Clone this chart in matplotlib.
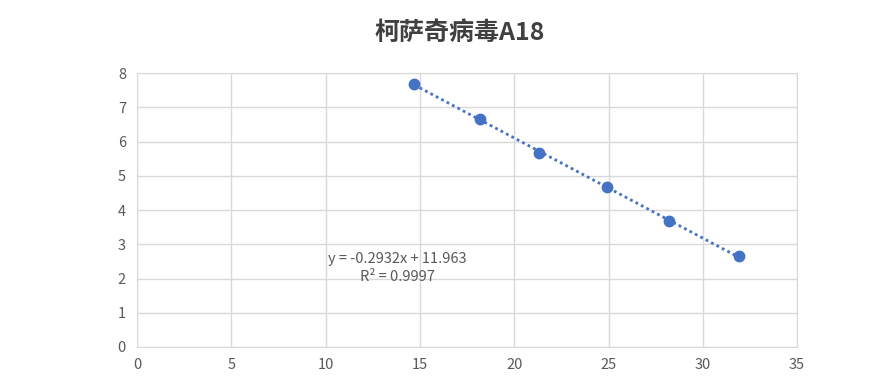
import numpy as np
import matplotlib
matplotlib.use("Agg")
import matplotlib.pyplot as plt

plt.rcParams['font.family'] = ['Noto Sans CJK SC', 'DejaVu Sans']

# data
ct_values = [14.7, 18.2, 21.3, 24.9, 28.2, 31.9]
log_conc = [7.67, 6.67, 5.67, 4.67, 3.67, 2.67]
title = '柯萨奇病毒A18'
eq_text = 'y = -0.2932x + 11.963'
r2_text = 'R² = 0.9997'
x_ticks = [0, 5, 10, 15, 20, 25, 30, 35]
y_ticks = [0, 1, 2, 3, 4, 5, 6, 7, 8]

blue = '#4472C4'
grey = '#595959'
grid_c = '#d9d9d9'

fig = plt.figure(figsize=(8.74, 3.87), dpi=100)
ax = fig.add_axes([0.1568, 0.1034, 0.912 - 0.1568, 0.811 - 0.1034])

# trendline
k, b = np.polyfit(ct_values, log_conc, 1)
xs = np.array([min(ct_values), max(ct_values)])
ax.plot(xs, k * xs + b, linestyle=(0, (1, 1.2)), color=blue, linewidth=2, zorder=2)

ax.plot(ct_values, log_conc, 'o', color=blue, markersize=7.5, zorder=3)

ax.set_xlim(0, 35)
ax.set_ylim(0, 8)
ax.set_xticks(x_ticks)
ax.set_yticks(y_ticks)
ax.grid(True, color=grid_c, linewidth=1)
ax.set_axisbelow(True)
for s in ax.spines.values():
    s.set_color(grid_c)
ax.tick_params(length=0, labelsize=10.5, labelcolor=grey, pad=8)

fig.text(0.526, 0.915, title, ha='center', va='center', fontsize=18,
         fontweight='bold', color='#404040')

ax.text(13.8, 2.57, eq_text, fontsize=10.5, color=grey,
        ha='center', va='center')
ax.text(13.8, 2.04, r2_text, fontsize=10.5, color=grey,
        ha='center', va='center')

fig.savefig('out.png', dpi=100)
